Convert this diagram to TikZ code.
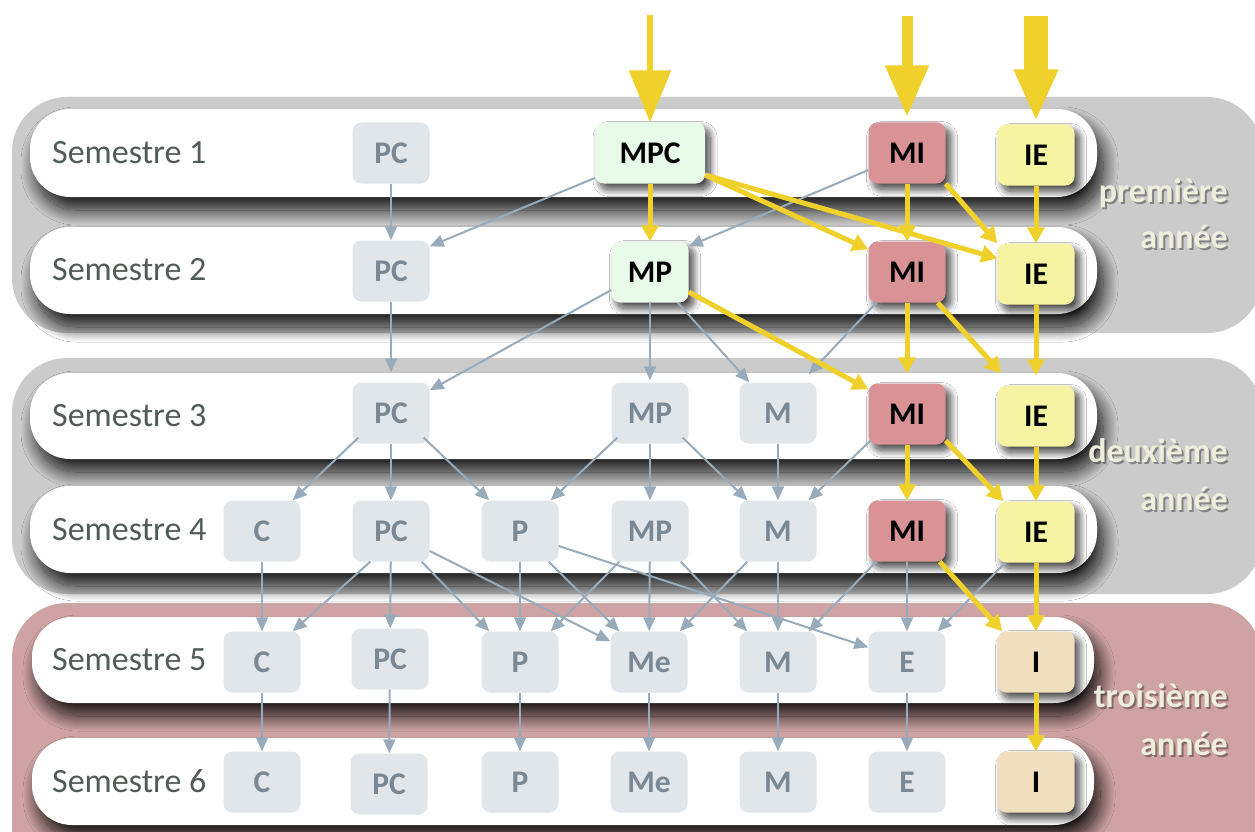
\documentclass[tikz,border=0pt]{standalone}
\usepackage{fontspec}
\setmainfont{Carlito}
\usetikzlibrary{arrows.meta,shadows.blur}
\definecolor{bandgray}{RGB}{203,203,203}
\definecolor{bandpink}{RGB}{207,163,164}
\definecolor{boxgray}{RGB}{225,230,235}
\definecolor{txtgray}{RGB}{120,136,148}
\definecolor{edgegray}{RGB}{151,171,186}
\definecolor{arrowyellow}{RGB}{240,208,42}
\definecolor{mpgreen}{RGB}{232,250,232}
\definecolor{mired}{RGB}{217,147,151}
\definecolor{ieyellow}{RGB}{246,244,162}
\definecolor{ibeige}{RGB}{240,222,190}
\definecolor{semtxt}{RGB}{82,92,86}
\definecolor{yeartxt}{RGB}{238,238,220}
\tikzset{
 course/.style={rectangle, rounded corners=9pt, minimum width=77pt, minimum height=61pt, inner sep=0pt, font=\fontsize{31.5}{34}\selectfont\bfseries},
 grayc/.style={course, fill=boxgray, text=txtgray},
 hot/.style={course, text=black, blur shadow={shadow xshift=5pt, shadow yshift=-6pt, shadow blur radius=7pt, shadow blur steps=20, shadow opacity=75}},
 mpbox/.style={hot, fill=mpgreen},
 mibox/.style={hot, fill=mired},
 iebox/.style={hot, fill=ieyellow},
 ibox/.style={hot, fill=ibeige},
 gedge/.style={draw=edgegray, line width=2pt, -{Triangle[length=14pt,width=12pt]}},
 yedge/.style={draw=arrowyellow, line width=5pt, -{Triangle[length=16pt,width=17pt]}},
 toparrow/.style={draw=arrowyellow, -{Triangle[length=52pt,width=41pt]}},
 semstrip/.style={fill=white, rounded corners=40pt, blur shadow={shadow xshift=6pt, shadow yshift=-13pt, shadow blur radius=15pt, shadow blur steps=30, shadow opacity=90}},
 semlbl/.style={anchor=west, font=\fontsize{34}{40}\selectfont, text=semtxt, inner sep=0pt},
 yearlbl/.style={anchor=base east, font=\fontsize{34}{40}\selectfont\bfseries, text=yeartxt, inner sep=0pt},
 yearshd/.style={anchor=base east, font=\fontsize{34}{40}\selectfont\bfseries, text=black, text opacity=0.35, inner sep=0pt},
}
\begin{document}
\begin{tikzpicture}[x=1pt,y=-1pt]
\useasboundingbox (0,0) rectangle (1255,832);
\clip (0,0) rectangle (1255,832);
\fill[white] (0,0) rectangle (1255,832);
% year bands
\fill[bandgray, rounded corners=55pt] (12,97) rectangle (1262,333);
\fill[bandgray, rounded corners=55pt] (12,358) rectangle (1262,594);
\fill[bandpink, rounded corners=55pt] (12,603) rectangle (1262,900);
% semester strips
\path[semstrip] (30,109) rectangle (1097,197);
\path[semstrip] (30,227) rectangle (1097,314);
\path[semstrip] (30,373) rectangle (1097,459);
\path[semstrip] (30,486) rectangle (1097,573);
\path[semstrip] (32,617) rectangle (1094,703);
\path[semstrip] (32,738) rectangle (1094,825);
% semester labels
\node[semlbl] (s1) at (52,153) {Semestre 1};
\node[semlbl] (s2) at (52,270) {Semestre 2};
\node[semlbl] (s3) at (52,416) {Semestre 3};
\node[semlbl] (s4) at (52,530) {Semestre 4};
\node[semlbl] (s5) at (52,660) {Semestre 5};
\node[semlbl] (s6) at (52,781) {Semestre 6};
% year labels
\node[yearshd] (y1as) at (1230,204) {première};
\node[yearlbl] (y1a) at (1228,202) {première};
\node[yearshd] (y1bs) at (1230,250) {année};
\node[yearlbl] (y1b) at (1228,248) {année};
\node[yearshd] (y2as) at (1230,464) {deuxième};
\node[yearlbl] (y2a) at (1228,462) {deuxième};
\node[yearshd] (y2bs) at (1230,512) {année};
\node[yearlbl] (y2b) at (1228,510) {année};
\node[yearshd] (y3as) at (1230,709) {troisième};
\node[yearlbl] (y3a) at (1228,707) {troisième};
\node[yearshd] (y3bs) at (1230,757) {année};
\node[yearlbl] (y3b) at (1228,755) {année};
% row 1
\node[grayc] (r1pc) at (391,153) {PC};
\node[mpbox, minimum width=110pt] (r1mpc) at (650,153) {MPC};
\node[mibox] (r1mi) at (907,153) {MI};
\node[iebox] (r1ie) at (1036,155) {IE};
% row 2
\node[grayc] (r2pc) at (391,271) {PC};
\node[mpbox] (r2mp) at (650,272) {MP};
\node[mibox] (r2mi) at (907,272) {MI};
\node[iebox] (r2ie) at (1036,274) {IE};
% row 3
\node[grayc] (r3pc) at (391,413) {PC};
\node[grayc] (r3mp) at (650,413) {MP};
\node[grayc] (r3m) at (778,413) {M};
\node[mibox] (r3mi) at (907,414) {MI};
\node[iebox] (r3ie) at (1036,416) {IE};
% row 4
\node[grayc] (r4c) at (262,531) {C};
\node[grayc] (r4pc) at (391,531) {PC};
\node[grayc] (r4p) at (520,531) {P};
\node[grayc] (r4mp) at (650,531) {MP};
\node[grayc] (r4m) at (778,531) {M};
\node[mibox] (r4mi) at (907,531) {MI};
\node[iebox] (r4ie) at (1036,532) {IE};
% row 5
\node[grayc] (r5c) at (262,662) {C};
\node[grayc] (r5pc) at (390,659) {PC};
\node[grayc] (r5p) at (520,662) {P};
\node[grayc] (r5me) at (649,662) {Me};
\node[grayc] (r5m) at (778,662) {M};
\node[grayc] (r5e) at (907,662) {E};
\node[ibox] (r5i) at (1036,662) {I};
% row 6
\node[grayc] (r6c) at (262,782) {C};
\node[grayc] (r6pc) at (389,784) {PC};
\node[grayc] (r6p) at (520,782) {P};
\node[grayc] (r6me) at (649,782) {Me};
\node[grayc] (r6m) at (778,782) {M};
\node[grayc] (r6e) at (907,782) {E};
\node[ibox] (r6i) at (1036,782) {I};
% top arrows
\coordinate (inA) at (650,15);
\coordinate (inB) at (907,16);
\coordinate (inC) at (1036,16);
\draw[toparrow, line width=6pt] (inA) -- (r1mpc.north);
\draw[toparrow, line width=11pt] (inB) -- ([yshift=5pt]r1mi.north);
\draw[toparrow, line width=24pt] (inC) -- ([yshift=3pt]r1ie.north);
% gray edges row1 -> row2
\draw[gedge] (r1pc) -- (r2pc);
\draw[gedge] ([yshift=-25pt]r1mpc.west) -- ([yshift=-6pt]r2pc.north east);
\draw[gedge] ([yshift=-17pt]r1mi.west) -- ([yshift=-5pt]r2mp.north east);
% gray edges row2 -> row3
\draw[gedge, shorten >=10pt] (r2pc) -- (r3pc);
\draw[gedge] ([yshift=-18pt]r2mp.west) -- ([yshift=-8pt]r3pc.north east);
\draw[gedge, shorten >=2pt] (r2mp) -- (r3mp);
\draw[gedge] ([xshift=-11pt]r2mp.south east) -- ([xshift=10pt]r3m.north west);
\draw[gedge] ([xshift=8pt]r2mi.south west) -- ([xshift=-8pt,yshift=8pt]r3m.north east);
% gray edges row3 -> row4
\draw[gedge] ([xshift=6pt,yshift=6pt]r3pc.south west) -- ([xshift=-8pt]r4c.north east);
\draw[gedge] (r3pc) -- (r4pc);
\draw[gedge] ([xshift=-6pt,yshift=6pt]r3pc.south east) -- ([xshift=8pt]r4p.north west);
\draw[gedge] ([xshift=6pt,yshift=6pt]r3mp.south west) -- ([xshift=-8pt]r4p.north east);
\draw[gedge] (r3mp) -- (r4mp);
\draw[gedge] ([xshift=-6pt,yshift=6pt]r3mp.south east) -- ([xshift=8pt]r4m.north west);
\draw[gedge] (r3m) -- (r4m);
\draw[gedge] ([xshift=2pt,yshift=4pt]r3mi.south west) -- ([xshift=-8pt]r4m.north east);
% gray edges row4 -> row5
\draw[gedge] (r4c) -- (r5c);
\draw[gedge] ([xshift=18pt]r4pc.south west) -- ([xshift=-8pt]r5c.north east);
\draw[gedge] (r4pc) -- (r5pc);
\draw[gedge] ([xshift=-8pt]r4pc.south east) -- ([xshift=8pt]r5p.north west);
\draw[gedge] ([yshift=-20pt]r4pc.east) -- ([yshift=-10pt]r5me.north west);
\draw[gedge] (r4p) -- (r5p);
\draw[gedge] ([xshift=-10pt]r4p.south east) -- ([xshift=9pt]r5me.north west);
\draw[gedge] ([yshift=-15pt]r4p.east) -- ([yshift=-16pt]r5e.north west);
\draw[gedge] ([xshift=8pt]r4mp.south west) -- ([xshift=-8pt]r5p.north east);
\draw[gedge] (r4mp) -- (r5me);
\draw[gedge] ([xshift=-8pt]r4mp.south east) -- ([xshift=8pt]r5m.north west);
\draw[gedge] ([xshift=8pt]r4m.south west) -- ([xshift=-8pt]r5me.north east);
\draw[gedge] (r4m) -- (r5m);
\draw[gedge] ([xshift=8pt]r4mi.south west) -- ([xshift=-8pt]r5m.north east);
\draw[gedge] (r4mi) -- (r5e);
\draw[gedge] ([xshift=8pt]r4ie.south west) -- ([xshift=-8pt]r5e.north east);
% gray edges row5 -> row6
\draw[gedge] (r5c) -- (r6c);
\draw[gedge] (r5pc) -- (r6pc);
\draw[gedge] (r5p) -- (r6p);
\draw[gedge] (r5me) -- (r6me);
\draw[gedge] (r5m) -- (r6m);
\draw[gedge] (r5e) -- (r6e);
% yellow edges
\draw[yedge] (r1mpc) -- (r2mp);
\draw[yedge] ([yshift=-22pt]r1mpc.east) -- ([yshift=-8pt]r2mi.north west);
\draw[yedge] ([yshift=-22pt]r1mpc.east) -- ([yshift=-15pt]r2ie.north west);
\draw[yedge] (r1mi) -- (r2mi);
\draw[yedge] (r1mi.south east) -- (r2ie.north west);
\draw[yedge] (r1ie) -- (r2ie);
\draw[yedge] ([yshift=-20pt]r2mp.east) -- ([yshift=-6pt]r3mi.north west);
\draw[yedge, shorten >=10pt] (r2mi) -- (r3mi);
\draw[yedge] ([xshift=-8pt]r2mi.south east) -- ([xshift=4pt,yshift=12pt]r3ie.north west);
\draw[yedge, shorten >=10pt] (r2ie) -- (r3ie);
\draw[yedge] (r3mi) -- (r4mi);
\draw[yedge] ([yshift=4pt]r3mi.south east) -- ([xshift=6pt]r4ie.north west);
\draw[yedge] (r3ie) -- (r4ie);
\draw[yedge] ([xshift=-6pt]r4mi.south east) -- ([xshift=5pt]r5i.north west);
\draw[yedge] (r4ie) -- (r5i);
\draw[yedge] (r5i) -- (r6i);
\end{tikzpicture}
\end{document}
